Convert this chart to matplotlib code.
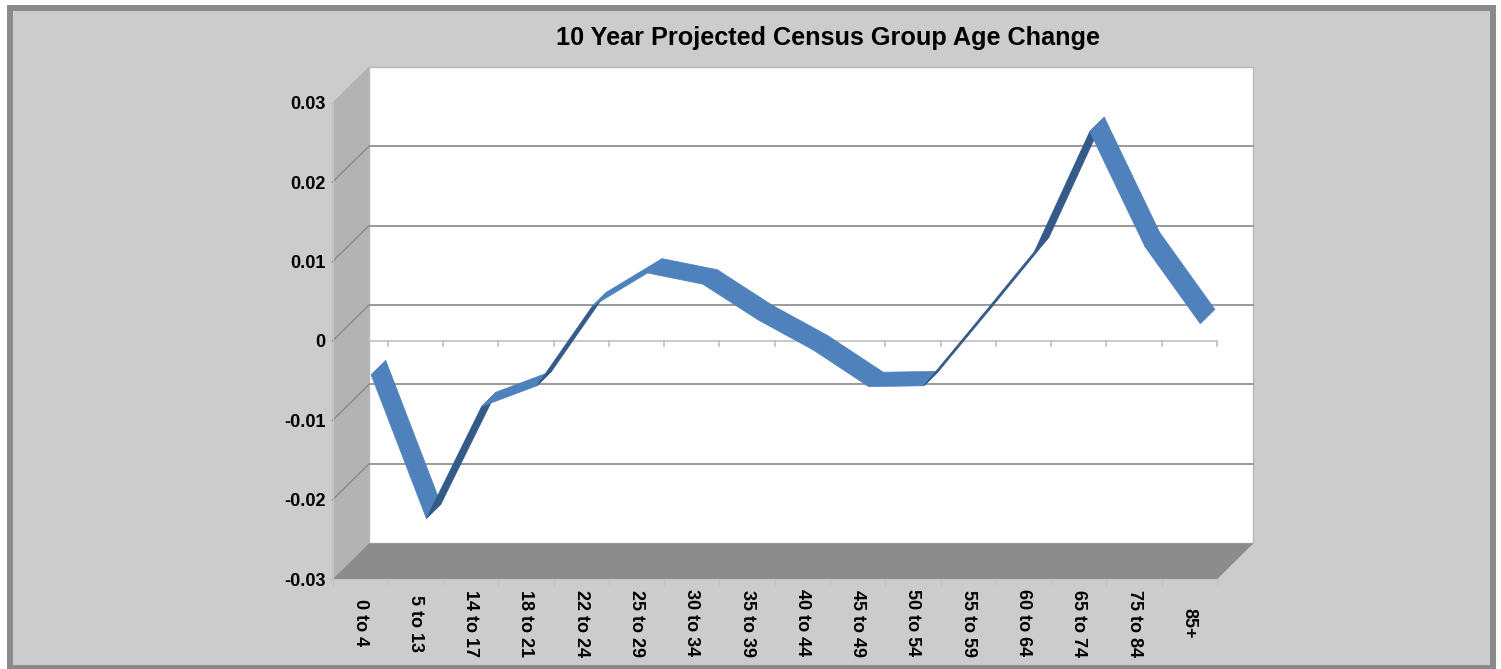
import matplotlib
matplotlib.use("Agg")
import matplotlib.pyplot as plt
from matplotlib.patches import Polygon, Rectangle
import numpy as np

categories = ["0 to 4", "5 to 13", "14 to 17", "18 to 21", "22 to 24", "25 to 29",
              "30 to 34", "35 to 39", "40 to 44", "45 to 49", "50 to 54", "55 to 59",
              "60 to 64", "65 to 74", "75 to 84", "85+"]
values = [-0.0056, -0.0237, -0.0096, -0.0070, 0.0030, 0.0072,
          0.0058, 0.0013, -0.0025, -0.0071, -0.0070, 0.0014,
          0.0099, 0.0250, 0.0105, 0.0008]
y_ticks = [-0.03, -0.02, -0.01, 0.0, 0.01, 0.02, 0.03]
y_tick_labels = ["-0.03", "-0.02", "-0.01", "0", "0.01", "0.02", "0.03"]
title = "10 Year Projected Census Group Age Change"

W, H = 1501, 669
fig = plt.figure(figsize=(W / 100, H / 100), dpi=100)
fig.patch.set_facecolor("white")

# outer frame
fig.patches.append(Rectangle((10 / W, 1 - 668 / H), (1493 - 10) / W, (668 - 8) / H,
                             transform=fig.transFigure, facecolor="#cccccc",
                             edgecolor="#8a8a8a", linewidth=4.3, zorder=-5))

left_px, right_px, top_px, bot_px = 332.5, 1217.0, 102.7, 579.3
ax = fig.add_axes([left_px / W, 1 - bot_px / H, (right_px - left_px) / W, (bot_px - top_px) / H])
ax.set_zorder(1)
n = len(categories)
ax.set_xlim(0, n)
ax.set_ylim(y_ticks[0], y_ticks[-1])
ax.patch.set_visible(False)

# depth projection (oblique): depth 1 = back wall
DX_PX, DY_PX = 36.5, 36.0
kx = n / (right_px - left_px)
ky = (y_ticks[-1] - y_ticks[0]) / (bot_px - top_px)


def P(x, v, d):
    return (x + d * DX_PX * kx, v + d * DY_PX * ky)


ymin, ymax = y_ticks[0], y_ticks[-1]
grid_c = "#9a9a9a"

# back wall
ax.add_patch(Polygon([P(0, ymin, 1), P(n, ymin, 1), P(n, ymax, 1), P(0, ymax, 1)],
                     closed=True, facecolor="white", edgecolor="#b8b8b8", lw=1.0,
                     clip_on=False, zorder=1))
for v in y_ticks[1:-1]:
    a, b = P(0, v, 1), P(n, v, 1)
    ax.plot([a[0], b[0]], [a[1], b[1]], color=grid_c, lw=1.4, clip_on=False, zorder=2)

# category axis at zero level
ax.plot([0, n], [0, 0], color="#c0c0c0", lw=1.2, clip_on=False, zorder=2.5)
for k in range(1, n + 1):
    ax.plot([k, k], [0, -5 * ky], color="#c0c0c0", lw=1.2, clip_on=False, zorder=2.5)

# side wall
ax.add_patch(Polygon([P(0, ymin, 0), P(0, ymax, 0), P(0, ymax, 1), P(0, ymin, 1)],
                     closed=True, facecolor="#b3b3b3", edgecolor="none",
                     clip_on=False, zorder=3))
for v in y_ticks[1:-1]:
    a, b = P(0, v, 0), P(0, v, 1)
    ax.plot([a[0], b[0]], [a[1], b[1]], color="#8a8a8a", lw=1.0, clip_on=False, zorder=3.5)

# floor
ax.add_patch(Polygon([P(0, ymin, 0), P(n, ymin, 0), P(n, ymin, 1), P(0, ymin, 1)],
                     closed=True, facecolor="#8c8c8c", edgecolor="none",
                     clip_on=False, zorder=3))

# ribbon
D0, D1 = 0.3, 0.7
xs = np.arange(n) + 0.5
light, dark = "#4f81bd", "#345a88"
for i in range(n - 1):
    x1, v1, x2, v2 = xs[i], values[i], xs[i + 1], values[i + 1]
    quad = [P(x1, v1, D0), P(x2, v2, D0), P(x2, v2, D1), P(x1, v1, D1)]
    sx = (x2 - x1) / kx
    sy = (v2 - v1) / ky
    cross = sx * DY_PX - sy * DX_PX
    col = light if cross > 0 else dark
    ax.add_patch(Polygon(quad, closed=True, facecolor=col, edgecolor=col, lw=0.5,
                         clip_on=False, zorder=5 + i * 0.01))

# axes styling
for s in ["top", "right"]:
    ax.spines[s].set_visible(False)
ax.spines["left"].set_color("#c4c4c4")
ax.spines["bottom"].set_color("#c4c4c4")
ax.spines["left"].set_zorder(4)
ax.spines["bottom"].set_zorder(4)

font = dict(family="Liberation Sans", weight="bold", size=13)
ax.set_yticks(y_ticks)
ax.set_yticklabels(y_tick_labels, fontdict=font)
ax.tick_params(axis="y", length=3, width=1, color="#c4c4c4", pad=2)

ax.set_xticks(np.arange(n + 1))
ax.set_xticklabels([])
ax.tick_params(axis="x", which="major", length=5, width=1, color="#c4c4c4")
ax.set_xticks(xs, minor=True)
ax.set_xticklabels(categories, minor=True, fontdict=font)
ax.tick_params(axis="x", which="minor", length=0, pad=31.5)
for lab in ax.get_xticklabels(minor=True):
    lab.set_rotation(270)
    lab.set_va("center")
    lab.set_ha("center")

fig.text(827.5 / W, 1 - 38 / H, title, ha="center", va="center",
         family="Liberation Sans", weight="bold", size=18.2)

fig.savefig("out.png", dpi=100, facecolor=fig.get_facecolor())
